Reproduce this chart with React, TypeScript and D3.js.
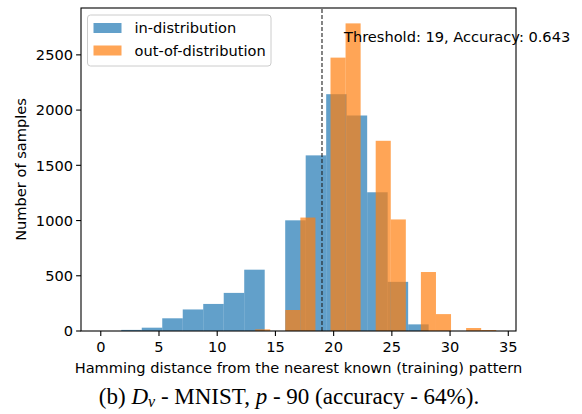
import React from "react";
import * as d3 from "d3";

// histogram bins (counts per bin)
const inDistStart = 0;
const inDistBinWidth = 1.76;
const inDistCounts = [0, 10, 30, 115, 195, 245, 345, 555, 0, 1002, 1590, 2144, 1951, 1256, 445, 60];

const outDistStart = 13.26;
const outDistBinWidth = 1.294;
const outDistCounts = [15, 0, 190, 1027, 0, 2475, 2785, 0, 1722, 1010, 0, 534, 153, 0, 27, 9];

const xTicks = [0, 5, 10, 15, 20, 25, 30, 35];
const yTicks = [0, 500, 1000, 1500, 2000, 2500];
const seriesNames = ["in-distribution", "out-of-distribution"];
const threshold = 19;
const thresholdLabel = "Threshold: 19, Accuracy: 0.643";

const W = 582;
const H = 414;
const margin = { top: 8, right: 66, bottom: 83, left: 81 };
const font = "DejaVu Sans";
const fs = 14.6;

const toBins = (start: number, w: number, counts: number[]) =>
  counts.map((c, i) => ({ x0: start + i * w, x1: start + (i + 1) * w, c }));

export default function App() {
  const left = margin.left;
  const right = W - margin.right;
  const top = margin.top;
  const bottom = 331;

  const blue = toBins(inDistStart, inDistBinWidth, inDistCounts);
  const orange = toBins(outDistStart, outDistBinWidth, outDistCounts);
  const xmin = d3.min(blue, (d) => d.x0)!;
  const xmax = d3.max(orange, (d) => d.x1)!;
  const pad = (xmax - xmin) * 0.05;
  const ymax = Math.max(d3.max(inDistCounts)!, d3.max(outDistCounts)!) * 1.05;

  const x = d3.scaleLinear().domain([xmin - pad, xmax + pad]).range([left, right]);
  const y = d3.scaleLinear().domain([0, ymax]).range([bottom, top]);
  const colors = ["#1f77b4", "#ff7f0e"];

  const bars = (bins: { x0: number; x1: number; c: number }[], col: string, key: string) =>
    bins
      .filter((b) => b.c > 0)
      .map((b, i) => (
        <rect
          key={key + i}
          x={x(b.x0)}
          y={y(b.c)}
          width={x(b.x1) - x(b.x0)}
          height={y(0) - y(b.c)}
          fill={col}
          fillOpacity={0.7}
        />
      ));

  return (
    <div>
      <style>{`body{margin:0}`}</style>
      <svg width={W} height={H} style={{ display: "block" }} fontFamily={font}>
        <rect width={W} height={H} fill="white" />
        {bars(blue, colors[0], "b")}
        {bars(orange, colors[1], "o")}

        <line
          x1={x(threshold)}
          x2={x(threshold)}
          y1={bottom}
          y2={top}
          stroke="#222"
          strokeWidth={1.1}
          strokeDasharray="4,2"
        />
        <text x={344} y={41.5} fontSize={fs} fill="#000">
          {thresholdLabel}
        </text>

        {/* axes frame */}
        <rect x={left} y={top} width={right - left} height={bottom - top} fill="none" stroke="#000" strokeWidth={1.1} />

        {xTicks.map((t) => (
          <g key={"x" + t} transform={`translate(${x(t)},${bottom})`}>
            <line y2={4.9} stroke="#000" strokeWidth={1.1} />
            <text y={21} textAnchor="middle" fontSize={fs} fill="#000">
              {t}
            </text>
          </g>
        ))}
        {yTicks.map((t) => (
          <g key={"y" + t} transform={`translate(${left},${y(t)})`}>
            <line x2={-4.9} stroke="#000" strokeWidth={1.1} />
            <text x={-8} dy="0.36em" textAnchor="end" fontSize={fs} fill="#000">
              {t}
            </text>
          </g>
        ))}

        <text x={(left + right) / 2} y={373} textAnchor="middle" fontSize={fs} fill="#000">
          Hamming distance from the nearest known (training) pattern
        </text>
        <text
          transform={`translate(21,${(top + bottom) / 2}) rotate(-90)`}
          textAnchor="middle"
          dy="0.36em"
          fontSize={fs}
          fill="#000"
        >
          Number of samples
        </text>

        {/* legend */}
        <g transform="translate(87.5,15)">
          <rect width={183.5} height={51} rx={3} fill="white" fillOpacity={0.8} stroke="#ccc" strokeWidth={1} />
          {seriesNames.map((n, i) => (
            <g key={n} transform={`translate(0,${13 + i * 22.5})`}>
              <rect x={6} y={-5} width={28} height={10} fill={colors[i]} fillOpacity={0.7} />
              <text x={47} dy="0.36em" fontSize={fs} fill="#000">
                {n}
              </text>
            </g>
          ))}
        </g>

        {/* caption */}
        <text x={289} y={404} textAnchor="middle" fontFamily="Liberation Serif" fontSize={23} fill="#000">
          (b) <tspan fontStyle="italic">D</tspan>
          <tspan fontStyle="italic" fontSize={16} dy={3}>v</tspan>
          <tspan dy={-3}> - MNIST, </tspan>
          <tspan fontStyle="italic">p</tspan> - 90 (accuracy - 64%).
        </text>
      </svg>
    </div>
  );
}
